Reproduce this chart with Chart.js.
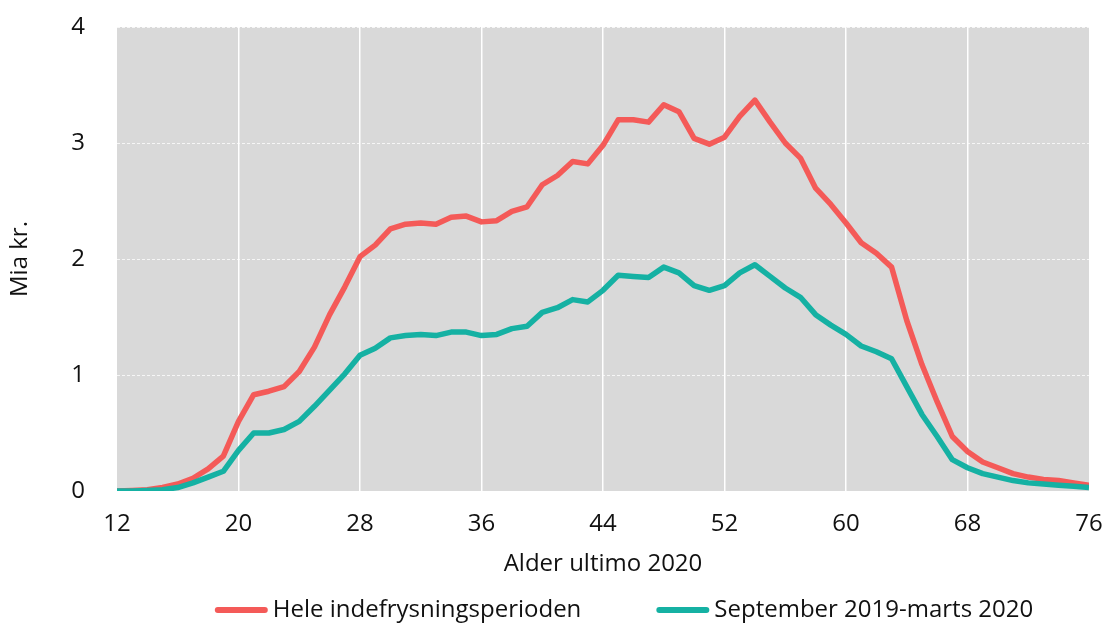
<!DOCTYPE html>
<html>
<head>
<meta charset="utf-8">
<script src="https://cdn.jsdelivr.net/npm/chart.js@4/dist/chart.umd.min.js"></script>
<style>
  html, body { margin: 0; padding: 0; background: #fff; }
  #wrap { width: 1105px; height: 624px; }
</style>
</head>
<body>
<div id="wrap"><canvas id="chart" width="1105" height="624"></canvas></div>
<script>
// --------------------------------------------------
//  DATA (Mia kr. by age, end of 2020)
// --------------------------------------------------
const ages = [12,13,14,15,16,17,18,19,20,21,22,23,24,25,26,27,28,29,30,31,32,33,34,35,36,37,38,39,40,41,42,43,44,
              45,46,47,48,49,50,51,52,53,54,55,56,57,58,59,60,61,62,63,64,65,66,67,68,69,70,71,72,73,74,75,76];

const heleValues = [0.00,0.005,0.01,0.03,0.06,0.11,0.19,0.30,0.60,0.83,0.86,0.90,1.03,1.24,1.52,1.76,2.02,2.12,2.26,2.30,2.31,2.30,2.36,2.37,2.32,2.33,2.41,2.45,2.64,2.72,2.84,2.82,2.98,
                    3.20,3.20,3.18,3.33,3.27,3.04,2.99,3.05,3.23,3.37,3.18,3.00,2.87,2.61,2.47,2.31,2.14,2.05,1.93,1.47,1.09,0.77,0.47,0.34,0.25,0.20,0.15,0.12,0.10,0.09,0.07,0.05];

const septValues = [0.00,0.00,0.005,0.01,0.03,0.07,0.12,0.17,0.35,0.50,0.50,0.53,0.60,0.73,0.87,1.01,1.17,1.23,1.32,1.34,1.35,1.34,1.37,1.37,1.34,1.35,1.40,1.42,1.54,1.58,1.65,1.63,1.73,
                    1.86,1.85,1.84,1.93,1.88,1.77,1.73,1.77,1.88,1.95,1.85,1.75,1.67,1.52,1.43,1.35,1.25,1.20,1.14,0.90,0.66,0.47,0.27,0.20,0.15,0.12,0.09,0.07,0.06,0.05,0.04,0.03];

const seriesLabels = ["Hele indefrysningsperioden", "September 2019-marts 2020"];
const xTicks = [12,20,28,36,44,52,60,68,76];
const yTicks = [0,1,2,3,4];

const RED = "#F45A58";
const TEAL = "#15B1A3";
const FONT = "'Open Sans', 'DejaVu Sans', sans-serif";
const FSIZE = 24;

// grey plot background
const plotBg = {
    id: 'plotBg',
    beforeDraw(chart) {
        const a = chart.chartArea;
        const ctx = chart.ctx;
        ctx.save();
        ctx.fillStyle = "#D9D9D9";
        ctx.fillRect(a.left, a.top, a.right - a.left, a.bottom - a.top);
        ctx.restore();
    }
};

// legend: short thick line + label, drawn under the axis title
const lineLegend = {
    id: 'lineLegend',
    afterDraw(chart) {
        const ctx = chart.ctx;
        const lineW = 53, gap = 5, itemGap = 75;
        ctx.save();
        ctx.font = FSIZE + "px " + FONT;
        ctx.textBaseline = 'middle';
        const items = chart.data.datasets.map(ds => ({
            text: ds.label, color: ds.borderColor, w: ctx.measureText(ds.label).width
        }));
        let total = 0;
        items.forEach((it, i) => { total += lineW + gap + it.w + (i ? itemGap : 0); });
        let x = 624 - total / 2;
        const y = 610;
        items.forEach(it => {
            ctx.strokeStyle = it.color;
            ctx.lineWidth = 6;
            ctx.lineCap = 'round';
            ctx.beginPath();
            ctx.moveTo(x + 3, y);
            ctx.lineTo(x + lineW - 3, y);
            ctx.stroke();
            ctx.fillStyle = "#111";
            ctx.fillText(it.text, x + lineW + gap, y);
            x += lineW + gap + it.w + itemGap;
        });
        ctx.restore();
    }
};

function toPoints(vals) {
    return vals.map((v, i) => ({ x: ages[i], y: v }));
}

const ctx = document.getElementById('chart').getContext('2d');
new Chart(ctx, {
    type: 'line',
    data: {
        datasets: [{
            label: seriesLabels[0],
            data: toPoints(heleValues),
            borderColor: RED,
            backgroundColor: RED,
            borderWidth: 5.5,
            pointRadius: 0,
            tension: 0,
            order: 1,
            borderJoinStyle: 'round'
        }, {
            label: seriesLabels[1],
            data: toPoints(septValues),
            borderColor: TEAL,
            backgroundColor: TEAL,
            borderWidth: 5.5,
            pointRadius: 0,
            tension: 0,
            order: 0, // teal on top, as in the original
            borderJoinStyle: 'round'
        }]
    },
    options: {
        responsive: false,
        animation: false,
        layout: { padding: { top: 27, right: 16, left: 0, bottom: 45 } },
        plugins: {
            legend: { display: false },
            tooltip: { enabled: false }
        },
        scales: {
            x: {
                type: 'linear',
                min: 12,
                max: 76,
                afterBuildTicks: s => { s.ticks = xTicks.map(v => ({ value: v })); },
                afterFit: s => { s.height = 88; s.paddingLeft = 0; s.paddingRight = 0; },
                ticks: { font: { family: FONT, size: FSIZE }, color: "#111", padding: 19 },
                grid: {
                    color: c => (c.tick && (c.tick.value === 12 || c.tick.value === 76)) ? "rgba(0,0,0,0)" : "#fff",
                    lineWidth: 1.5,
                    drawTicks: false
                },
                border: { display: false },
                title: { display: true, text: "Alder ultimo 2020", font: { family: FONT, size: FSIZE }, color: "#111", padding: { top: 0, bottom: 0 } }
            },
            y: {
                min: 0,
                max: 4,
                afterBuildTicks: s => { s.ticks = yTicks.map(v => ({ value: v })); },
                afterFit: s => { s.width = 117; s.paddingTop = 0; s.paddingBottom = 0; },
                ticks: { font: { family: FONT, size: FSIZE }, color: "#111", padding: 32 },
                grid: { color: "rgba(255,255,255,0.75)", lineWidth: 1, drawTicks: false },
                border: { display: false, dash: [3, 2] },
                title: { display: true, text: "Mia kr.", font: { family: FONT, size: FSIZE }, color: "#111", padding: { top: 6, bottom: 0 } }
            }
        }
    },
    plugins: [plotBg, lineLegend]
});
</script>
</body>
</html>
